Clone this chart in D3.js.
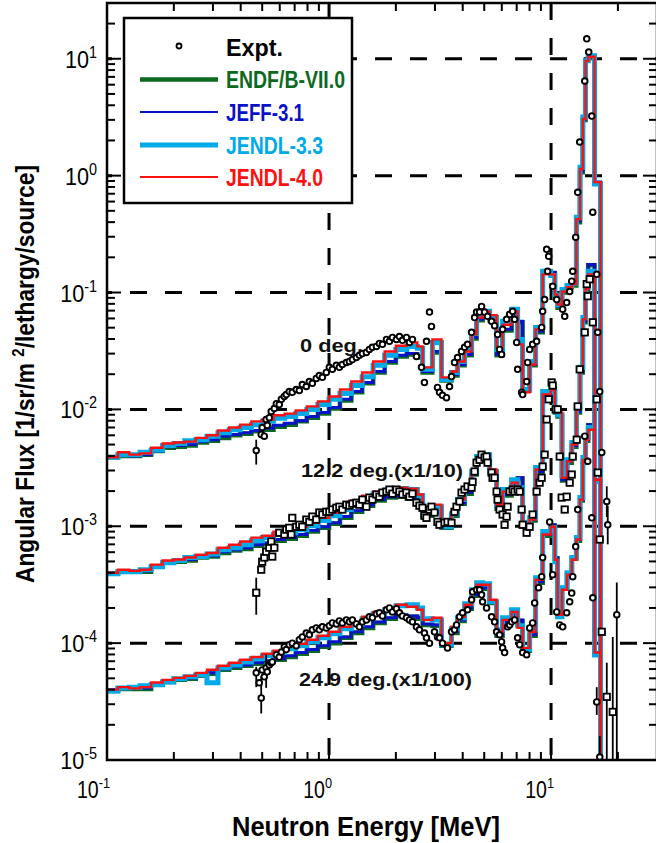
<!DOCTYPE html>
<html><head><meta charset="utf-8">
<script src="https://cdn.jsdelivr.net/npm/d3@7"></script>
<style>
html,body{margin:0;padding:0;background:#fff;}
svg{display:block;font-family:"Liberation Sans",Arial,sans-serif;}
</style></head><body>
<svg id="chart" width="656" height="843"></svg>
<script>
// ---------- DATA ----------
const edges = [0.1,0.112,0.126,0.141,0.158,0.178,0.2,0.224,0.251,0.282,0.316,0.355,0.398,0.447,0.501,0.562,0.631,0.708,0.794,0.891,1.0,
  1.12,1.26,1.41,1.58,1.78,2.0,2.24,2.5,2.64,2.92,3.21,3.56,3.79,4.08,4.39,4.62,4.92,5.29,5.68,6.05,6.64,7.07,7.44,8.01,8.52,9.17,9.96,
  10.4,10.7,11.2,11.8,12.4,13.0,13.5,13.9,14.3,14.7,15.7,16.7];

const deg0_endf = [3.9e-3,4.0e-3,4.0e-3,4.1e-3,4.4e-3,4.7e-3,4.8e-3,4.9e-3,5.2e-3,5.4e-3,5.7e-3,6.0e-3,6.2e-3,6.5e-3,6.7e-3,7.1e-3,7.4e-3,7.9e-3,8.5e-3,9.2e-3,1.02e-2,
  1.19e-2,1.40e-2,1.67e-2,2.07e-2,2.52e-2,2.84e-2,2.95e-2,
  2.78e-2,2.07e-2,3.07e-2,1.77e-2,1.95e-2,2.38e-2,2.9e-2,4.05e-2,5.8e-2,6.4e-2,5.8e-2,2.9e-2,4.74e-2,6.4e-2,5.56e-2,1.45e-2,2.38e-2,4.56e-2,
  0.149,0.146,0.089,0.074,0.100,0.111,0.115,0.40,1.07,2.99,9.8,10.2,0.86];
const deg0_jeff = [3.9e-3,4.1e-3,4.0e-3,4.1e-3,4.4e-3,4.8e-3,4.9e-3,5.0e-3,5.3e-3,5.5e-3,5.9e-3,6.1e-3,6.3e-3,6.6e-3,6.9e-3,7.3e-3,7.6e-3,8.0e-3,8.7e-3,9.4e-3,1.04e-2,
  1.22e-2,1.42e-2,1.70e-2,2.11e-2,2.57e-2,2.9e-2,3.0e-2,
  2.84e-2,2.11e-2,3.13e-2,1.80e-2,1.99e-2,2.42e-2,2.95e-2,4.13e-2,5.9e-2,6.5e-2,5.9e-2,2.95e-2,4.84e-2,6.5e-2,5.67e-2,1.48e-2,2.42e-2,4.65e-2,
  0.152,0.149,0.091,0.076,0.102,0.113,0.118,0.41,1.09,3.05,10.0,10.4,0.88];
const deg0_jendl33 = [3.9e-3,4.1e-3,4.1e-3,4.3e-3,4.5e-3,4.9e-3,5.1e-3,5.4e-3,5.5e-3,5.9e-3,6.3e-3,6.7e-3,7.0e-3,7.4e-3,7.9e-3,8.4e-3,8.7e-3,9.2e-3,1.0e-2,1.10e-2,1.22e-2,
  1.37e-2,1.6e-2,1.9e-2,2.38e-2,2.9e-2,3.26e-2,3.46e-2,
  3.33e-2,2.2e-2,3.74e-2,1.80e-2,2.07e-2,2.57e-2,3.26e-2,4.47e-2,6.4e-2,6.9e-2,6.1e-2,3.26e-2,5.67e-2,7.2e-2,3.97e-2,1.48e-2,2.57e-2,5.03e-2,
  0.152,0.140,0.095,0.078,0.106,0.115,0.120,0.44,1.18,3.17,9.6,10.6,0.85];
const deg0_jendl40 = [3.9e-3,4.3e-3,4.1e-3,4.2e-3,4.7e-3,5.1e-3,5.2e-3,5.3e-3,5.7e-3,6.0e-3,6.6e-3,7.0e-3,7.4e-3,7.9e-3,8.2e-3,8.9e-3,9.2e-3,9.8e-3,1.06e-2,1.17e-2,1.29e-2,
  1.48e-2,1.73e-2,2.07e-2,2.57e-2,3.13e-2,3.5e-2,3.74e-2,
  3.46e-2,2.29e-2,3.97e-2,1.88e-2,2.11e-2,2.57e-2,3.13e-2,4.38e-2,6.1e-2,6.9e-2,6.4e-2,3.4e-2,5.3e-2,6.9e-2,3.6e-2,1.40e-2,2.42e-2,4.84e-2,
  0.143,0.143,0.096,0.079,0.102,0.111,0.118,0.424,1.14,3.05,9.6,10.4,0.88];

const deg12_endf = [3.92e-4,4.08e-4,4.08e-4,4.08e-4,4.5e-4,4.88e-4,4.97e-4,5.1e-4,5.4e-4,5.5e-4,5.9e-4,6.2e-4,6.4e-4,6.8e-4,7.1e-4,7.5e-4,7.8e-4,8.3e-4,9.0e-4,9.7e-4,1.05e-3,
  1.18e-3,1.33e-3,1.50e-3,1.66e-3,1.76e-3,1.79e-3,1.72e-3,
  1.53e-3,1.23e-3,1.31e-3,9.7e-4,1.23e-3,1.56e-3,1.90e-3,2.77e-3,3.65e-3,3.87e-3,2.88e-3,1.41e-3,1.83e-3,2.23e-3,2.56e-3,9.9e-4,1.12e-3,2.88e-3,
  1.32e-2,1.51e-2,9.4e-3,8.7e-3,2.46e-3,3.5e-3,4.8e-3,9.4e-3,2.07e-2,5.56e-2,0.104,0.171,2.46e-3];
const deg12_jeff = [4.0e-4,4.15e-4,4.15e-4,4.15e-4,4.6e-4,4.97e-4,5.1e-4,5.2e-4,5.5e-4,5.6e-4,6.05e-4,6.3e-4,6.55e-4,6.95e-4,7.2e-4,7.7e-4,8.0e-4,8.5e-4,9.2e-4,9.9e-4,1.07e-3,
  1.21e-3,1.36e-3,1.53e-3,1.69e-3,1.79e-3,1.83e-3,1.76e-3,
  1.56e-3,1.26e-3,1.33e-3,9.9e-4,1.26e-3,1.59e-3,1.94e-3,2.82e-3,3.7e-3,3.95e-3,2.94e-3,1.44e-3,1.87e-3,2.27e-3,2.6e-3,1.01e-3,1.14e-3,2.94e-3,
  1.34e-2,1.54e-2,9.6e-3,8.9e-3,2.5e-3,3.6e-3,4.9e-3,9.6e-3,2.11e-2,5.67e-2,0.107,0.174,2.5e-3];
const deg12_jendl33 = [3.92e-4,4.08e-4,4.08e-4,4.25e-4,4.5e-4,4.88e-4,5.1e-4,5.4e-4,5.5e-4,5.8e-4,6.3e-4,6.55e-4,6.95e-4,7.5e-4,8.0e-4,8.5e-4,8.8e-4,9.35e-4,1.01e-3,1.12e-3,1.23e-3,
  1.39e-3,1.56e-3,1.72e-3,1.90e-3,2.02e-3,2.10e-3,2.06e-3,
  1.83e-3,1.31e-3,1.47e-3,9.9e-4,1.28e-3,1.69e-3,2.10e-3,2.94e-3,3.95e-3,4.1e-3,2.94e-3,1.53e-3,2.06e-3,2.5e-3,2.14e-3,1.07e-3,1.18e-3,3.18e-3,
  1.42e-2,1.42e-2,9.6e-3,9.0e-3,2.7e-3,3.7e-3,5.2e-3,1.04e-2,2.29e-2,6.1e-2,0.111,0.152,2.4e-3];
const deg12_jendl40 = [4.0e-4,4.25e-4,4.15e-4,4.25e-4,4.7e-4,5.1e-4,5.2e-4,5.4e-4,5.7e-4,5.9e-4,6.55e-4,6.95e-4,7.4e-4,8.0e-4,8.3e-4,9.0e-4,9.35e-4,9.9e-4,1.07e-3,1.18e-3,1.31e-3,
  1.47e-3,1.66e-3,1.83e-3,1.98e-3,2.06e-3,2.14e-3,2.10e-3,
  1.87e-3,1.33e-3,1.53e-3,1.03e-3,1.33e-3,1.69e-3,2.06e-3,2.94e-3,3.87e-3,4.1e-3,3.06e-3,1.53e-3,1.98e-3,2.36e-3,2.06e-3,1.03e-3,1.14e-3,3.06e-3,
  1.34e-2,1.48e-2,1.0e-2,9.4e-3,2.6e-3,3.6e-3,5.0e-3,1.0e-2,2.2e-2,5.9e-2,0.107,0.143,2.5e-3];

const deg25_endf = [3.9e-5,4.06e-5,4.06e-5,4.06e-5,4.4e-5,4.66e-5,4.85e-5,4.95e-5,5.25e-5,5.46e-5,5.91e-5,6.15e-5,6.4e-5,6.65e-5,6.9e-5,7.2e-5,7.6e-5,8.1e-5,8.6e-5,9.3e-5,1.0e-4,
  1.11e-4,1.22e-4,1.35e-4,1.49e-4,1.62e-4,1.71e-4,1.68e-4,
  1.62e-4,1.43e-4,1.41e-4,9.5e-5,1.22e-4,1.55e-4,1.97e-4,2.54e-4,2.92e-4,2.92e-4,2.21e-4,1.155e-4,1.49e-4,1.71e-4,1.55e-4,8.6e-5,1.155e-4,3.28e-4,
  8.3e-4,1.01e-3,5.3e-4,1.82e-4,2.92e-4,3.85e-4,5.3e-4,7.5e-4,1.66e-3,3.5e-3,5.4e-3,7.3e-3,8.1e-5];
const deg25_jeff = [4.0e-5,4.14e-5,4.14e-5,4.14e-5,4.48e-5,4.75e-5,4.95e-5,5.04e-5,5.35e-5,5.57e-5,6.0e-5,6.27e-5,6.5e-5,6.8e-5,7.05e-5,7.35e-5,7.8e-5,8.3e-5,8.8e-5,9.5e-5,1.03e-4,
  1.13e-4,1.25e-4,1.38e-4,1.52e-4,1.65e-4,1.75e-4,1.71e-4,
  1.65e-4,1.46e-4,1.43e-4,9.7e-5,1.25e-4,1.58e-4,2.0e-4,2.59e-4,2.98e-4,2.98e-4,2.26e-4,1.18e-4,1.52e-4,1.75e-4,1.58e-4,8.8e-5,1.18e-4,3.35e-4,
  8.5e-4,1.03e-3,5.4e-4,1.85e-4,2.98e-4,3.92e-4,5.4e-4,7.7e-4,1.69e-3,3.6e-3,5.5e-3,7.4e-3,8.3e-5];
const deg25_jendl33 = [3.9e-5,4.14e-5,4.2e-5,4.31e-5,4.4e-5,4.66e-5,4.95e-5,5.15e-5,5.35e-5,4.57e-5,6.15e-5,6.5e-5,6.9e-5,7.35e-5,7.8e-5,8.3e-5,8.95e-5,9.5e-5,1.03e-4,1.11e-4,1.2e-4,
  1.33e-4,1.46e-4,1.62e-4,1.78e-4,1.93e-4,2.09e-4,2.13e-4,
  2.0e-4,1.62e-4,1.58e-4,9.7e-5,1.33e-4,1.65e-4,2.17e-4,2.86e-4,3.28e-4,3.22e-4,2.26e-4,1.30e-4,1.65e-4,1.93e-4,1.41e-4,8.8e-5,1.30e-4,3.63e-4,
  9.0e-4,9.7e-4,4.97e-4,1.68e-4,2.98e-4,4.0e-4,5.4e-4,8.0e-4,1.76e-3,3.87e-3,5.75e-3,7.0e-3,7.9e-5];
const deg25_jendl40 = [4.0e-5,4.2e-5,4.1e-5,4.2e-5,4.6e-5,4.85e-5,5.04e-5,5.25e-5,5.57e-5,5.91e-5,6.4e-5,6.8e-5,7.2e-5,7.6e-5,8.1e-5,8.6e-5,9.3e-5,9.87e-5,1.07e-4,1.155e-4,1.25e-4,
  1.38e-4,1.52e-4,1.68e-4,1.85e-4,2.0e-4,2.13e-4,2.05e-4,
  1.93e-4,1.58e-4,1.65e-4,1.0e-4,1.38e-4,1.68e-4,2.13e-4,2.75e-4,3.16e-4,3.16e-4,2.35e-4,1.25e-4,1.58e-4,1.85e-4,1.35e-4,9.1e-5,1.25e-4,3.49e-4,
  8.5e-4,9.9e-4,5.17e-4,1.75e-4,2.86e-4,3.85e-4,5.17e-4,7.7e-4,1.69e-3,3.7e-3,5.5e-3,6.7e-3,8.3e-5];

// experimental points [E (MeV), flux]
const expt0 = [[0.470,4.45e-3],[0.495,6.1e-3],[0.500,7.0e-3],[0.511,5.9e-3],[0.521,8.2e-3],[0.527,7.3e-3],[0.538,8.5e-3],[0.549,9.6e-3],[0.567,1.02e-2],[0.579,1.12e-2],[0.597,1.10e-2],[0.610,1.22e-2],[0.629,1.29e-2],[0.642,1.34e-2],[0.662,1.42e-2],[0.683,1.40e-2],[0.712,1.48e-2],[0.735,1.45e-2],[0.758,1.63e-2],[0.790,1.57e-2],[0.815,1.73e-2],[0.841,1.67e-2],[0.876,1.84e-2],[0.904,1.95e-2],[0.933,1.88e-2],[0.972,2.07e-2],[1.003,2.29e-2],[1.035,2.2e-2],[1.079,2.38e-2],[1.113,2.29e-2],[1.148,2.42e-2],[1.197,2.52e-2],[1.235,2.57e-2],[1.274,2.67e-2],[1.328,2.78e-2],[1.370,2.9e-2],[1.413,3.0e-2],[1.473,3.07e-2],[1.519,3.26e-2],[1.568,3.4e-2],[1.635,3.46e-2],[1.686,3.67e-2],[1.740,3.6e-2],[1.814,3.97e-2],[1.871,3.82e-2],[1.930,4.13e-2],[2.012,3.97e-2],[2.075,4.2e-2],[2.141,3.9e-2],[2.232,4.13e-2],[2.303,3.74e-2],[2.375,3.97e-2],[2.476,2.84e-2],[2.608,2.29e-2],[2.690,1.70e-2],[2.747,3.82e-2],[2.834,6.8e-2],[2.893,5.13e-2],[3.079,1.54e-2],[3.144,1.40e-2],[3.243,1.32e-2],[3.381,1.26e-2],[3.488,1.57e-2],[3.562,1.91e-2],[3.674,2.52e-2],[3.791,2.78e-2],[3.952,3.13e-2],[4.077,3.4e-2],[4.206,3.6e-2],[4.385,4.56e-2],[4.524,6.1e-2],[4.619,6.8e-2],[4.764,6.8e-2],[4.864,7.6e-2],[5.017,6.8e-2],[5.176,6.25e-2],[5.396,5.67e-2],[5.567,5.2e-2],[5.743,4.38e-2],[5.864,3.26e-2],[5.987,2.95e-2],[6.050,4.84e-2],[6.306,5.9e-2],[6.507,6.5e-2],[6.713,6.9e-2],[6.853,5.9e-2],[6.997,3.74e-2],[7.070,2.2e-2],[7.370,1.40e-2],[7.447,1.34e-2],[7.762,1.73e-2],[7.843,2.52e-2],[8.008,3.26e-2],[8.26,3.6e-2],[8.61,3.82e-2],[9.068,5.03e-2],[9.165,6.9e-2],[9.356,8.7e-2],[9.553,0.234],[9.755,0.204],[9.65,0.152],[10.17,0.113],[10.60,0.087],[11.28,0.072],[11.52,0.0625],[11.76,0.082],[12.13,0.102],[12.39,0.125],[12.52,0.152],[12.91,0.297],[13.18,0.72],[13.46,1.94],[14.18,6.45],[14.48,14.8],[14.78,11.4],[15.25,3.23],[15.41,0.487],[16.06,0.143],[16.23,0.0456],[16.57,1.42e-2],[16.92,4.28e-3],[17.82,1.63e-3],[18.0,1.03e-3],[19.77,1.75e-4]];
const expt12 = [[0.470,2.7e-4],[0.495,4.25e-4],[0.500,4.97e-4],[0.511,5.4e-4],[0.521,6.05e-4],[0.538,6.55e-4],[0.549,7.4e-4],[0.555,5.5e-4],[0.567,6.55e-4],[0.597,8.8e-4],[0.629,8.5e-4],[0.642,9.35e-4],[0.662,9.7e-4],[0.676,8.5e-4],[0.683,1.18e-3],[0.712,9.9e-4],[0.735,1.03e-3],[0.758,9.9e-4],[0.790,1.14e-3],[0.815,1.09e-3],[0.841,1.21e-3],[0.876,1.14e-3],[0.904,1.31e-3],[0.933,1.26e-3],[0.972,1.33e-3],[1.003,1.33e-3],[1.035,1.39e-3],[1.079,1.44e-3],[1.113,1.47e-3],[1.148,1.39e-3],[1.197,1.53e-3],[1.235,1.50e-3],[1.274,1.56e-3],[1.328,1.59e-3],[1.370,1.53e-3],[1.413,1.69e-3],[1.473,1.47e-3],[1.519,1.76e-3],[1.568,1.69e-3],[1.635,1.87e-3],[1.686,1.79e-3],[1.740,1.94e-3],[1.814,1.98e-3],[1.871,2.06e-3],[1.930,1.90e-3],[2.012,2.06e-3],[2.075,1.98e-3],[2.141,1.87e-3],[2.232,1.94e-3],[2.303,1.79e-3],[2.375,1.90e-3],[2.476,1.59e-3],[2.554,1.50e-3],[2.635,1.44e-3],[2.690,1.23e-3],[2.747,1.18e-3],[2.834,1.39e-3],[2.893,1.47e-3],[2.985,1.31e-3],[3.079,1.09e-3],[3.144,1.03e-3],[3.312,1.07e-3],[3.417,1.09e-3],[3.562,1.07e-3],[3.674,1.33e-3],[3.752,1.47e-3],[3.870,1.63e-3],[3.952,1.94e-3],[4.077,2.06e-3],[4.206,2.19e-3],[4.385,2.14e-3],[4.431,2.4e-3],[4.524,2.94e-3],[4.619,3.5e-3],[4.764,3.7e-3],[4.864,4.1e-3],[5.017,3.87e-3],[5.123,3.95e-3],[5.176,3.5e-3],[5.396,2.88e-3],[5.453,2.6e-3],[5.567,2.6e-3],[5.684,1.98e-3],[5.743,1.69e-3],[5.864,1.39e-3],[6.050,1.26e-3],[6.177,1.03e-3],[6.306,1.21e-3],[6.372,1.47e-3],[6.507,1.98e-3],[6.713,2.06e-3],[6.853,1.98e-3],[7.070,2.06e-3],[7.220,1.98e-3],[7.370,1.39e-3],[7.447,1.03e-3],[7.762,8.8e-4],[8.008,9.9e-4],[8.260,1.26e-3],[8.61,1.98e-3],[8.882,2.36e-3],[9.068,2.6e-3],[9.165,3.24e-3],[9.356,4.1e-3],[9.553,8.2e-3],[9.755,1.22e-2],[10.06,1.70e-2],[10.17,1.60e-2],[10.49,1.0e-2],[10.71,1.0e-2],[10.94,3.95e-3],[11.16,1.76e-3],[11.52,1.39e-3],[11.76,1.79e-3],[12.13,2.36e-3],[12.39,2.77e-3],[12.52,3.95e-3],[13.05,5.5e-3],[13.18,1.06e-2],[13.46,2.2e-2],[14.18,4.56e-2],[14.48,0.118],[14.63,0.093],[14.93,0.13],[15.41,5.56e-2],[16.06,1.22e-2],[16.23,2.88e-3],[16.57,7.7e-4],[16.92,1.25e-4],[17.82,3.47e-5],[18.96,2.58e-5]];
const expt25 = [[0.470,5.57e-5],[0.485,4.57e-5],[0.495,3.4e-5],[0.500,5.9e-5],[0.511,5.15e-5],[0.521,6.15e-5],[0.527,5.68e-5],[0.538,6.5e-5],[0.549,6.8e-5],[0.555,6.9e-5],[0.579,7.95e-5],[0.597,7.6e-5],[0.610,8.4e-5],[0.629,9.3e-5],[0.642,8.8e-5],[0.662,9.7e-5],[0.683,1.0e-4],[0.712,9.5e-5],[0.735,1.07e-4],[0.758,1.13e-4],[0.790,1.22e-4],[0.815,1.18e-4],[0.841,1.30e-4],[0.876,1.35e-4],[0.904,1.30e-4],[0.933,1.38e-4],[0.972,1.35e-4],[1.003,1.41e-4],[1.035,1.49e-4],[1.079,1.46e-4],[1.113,1.55e-4],[1.148,1.49e-4],[1.197,1.58e-4],[1.235,1.52e-4],[1.274,1.58e-4],[1.328,1.46e-4],[1.370,1.38e-4],[1.413,1.52e-4],[1.473,1.58e-4],[1.519,1.68e-4],[1.568,1.65e-4],[1.635,1.78e-4],[1.686,1.82e-4],[1.740,1.71e-4],[1.814,1.93e-4],[1.871,2.0e-4],[1.930,1.85e-4],[2.012,1.97e-4],[2.075,1.82e-4],[2.141,1.71e-4],[2.232,1.65e-4],[2.303,1.58e-4],[2.375,1.52e-4],[2.476,1.38e-4],[2.554,1.30e-4],[2.690,1.22e-4],[2.747,1.11e-4],[2.834,1.0e-4],[2.985,1.25e-4],[3.079,1.13e-4],[3.144,1.11e-4],[3.243,1.0e-4],[3.417,9.1e-5],[3.562,1.25e-4],[3.674,1.30e-4],[3.752,1.43e-4],[3.870,1.68e-4],[3.993,1.82e-4],[4.206,1.93e-4],[4.385,2.35e-4],[4.431,2.75e-4],[4.619,2.86e-4],[4.764,2.86e-4],[4.864,2.59e-4],[4.915,2.26e-4],[5.123,2.0e-4],[5.396,1.68e-4],[5.567,1.52e-4],[5.684,1.25e-4],[5.864,1.18e-4],[5.987,1.03e-4],[6.050,9.1e-5],[6.177,8.3e-5],[6.372,1.38e-4],[6.507,1.43e-4],[6.643,1.52e-4],[6.853,1.58e-4],[7.070,1.11e-4],[7.220,9.7e-5],[7.447,8.3e-5],[7.762,7.95e-5],[8.008,1.35e-4],[8.260,1.49e-4],[8.433,2.21e-4],[8.79,2.98e-4],[9.068,3.7e-4],[9.165,5.4e-4],[9.856,1.09e-3],[10.17,3.85e-4],[10.60,1.85e-4],[10.94,1.43e-4],[11.28,1.38e-4],[11.76,1.82e-4],[12.13,2.26e-4],[12.39,2.68e-4],[12.52,3.7e-4],[12.91,6.7e-4],[13.18,1.39e-3],[14.18,5.9e-3],[14.63,3.6e-3],[15.25,1.18e-3],[15.41,2.44e-4],[16.06,3.14e-5],[16.57,1.06e-5]];

// error bars [E, low, high]
const err0 = [[0.470,3.37e-3,5.5e-3],[17.82,1.2e-3,2.2e-3],[18.0,7.0e-4,1.5e-3],[19.77,1.0e-6,3.3e-4]];
const err12 = [[0.470,1.75e-4,3.63e-4],[17.82,1.0e-6,6.8e-5],[18.96,1.0e-6,1.13e-4]];
const err25 = [[0.470,4.2e-5,6.27e-5],[0.495,2.5e-5,5.2e-5],[0.521,4.14e-5,8.0e-5],[16.06,2.43e-5,4.2e-5],[16.57,1.0e-6,1.6e-5]];

const xMajorExp = [-1, 0, 1];
const yMajorExp = [-5, -4, -3, -2, -1, 0, 1];
const libNames = ["ENDF/B-VII.0", "JEFF-3.1", "JENDL-3.3", "JENDL-4.0"];
const libColors = ["#0c6a20", "#0a12c8", "#00a9e8", "#ff1010"];
const libWidths = [4.5, 3, 5, 2.4];
const angleLabels = ["0 deg.", "12.2 deg.(x1/10)", "24.9 deg.(x1/100)"];

// ---------- CHART ----------
const svg = d3.select("#chart");
const L = 107, R = 657, T = 3, B = 760;
const x = d3.scaleLog().domain([0.1, 30]).range([L, R]);
const y = d3.scaleLog().domain([1e-5, 30]).range([B, T]);

svg.append("rect").attr("width", 656).attr("height", 843).attr("fill", "#fff");
svg.append("defs").append("clipPath").attr("id", "clip")
  .append("rect").attr("x", L).attr("y", T).attr("width", R - L).attr("height", B - T);

// grid
const grid = svg.append("g").attr("clip-path", "url(#clip)")
  .attr("stroke", "#000").attr("stroke-width", 3).attr("stroke-dasharray", "17 18");
yMajorExp.filter(e => e > -5).forEach(e => {
  grid.append("line").attr("x1", L).attr("x2", R).attr("y1", y(Math.pow(10, e))).attr("y2", y(Math.pow(10, e)))
    .attr("stroke-dashoffset", 12);
});
xMajorExp.filter(e => e > -1).forEach(e => {
  grid.append("line").attr("y1", T).attr("y2", B).attr("x1", x(Math.pow(10, e))).attr("x2", x(Math.pow(10, e)));
});

// step curves
const lineGen = d3.line();
function stepPts(vals) {
  const pts = [];
  vals.forEach((v, i) => { pts.push([x(edges[i]), y(v)]); pts.push([x(edges[i + 1]), y(v)]); });
  pts.push([x(edges[edges.length - 1]), B + 10]);
  return pts;
}
const curves = svg.append("g").attr("clip-path", "url(#clip)").attr("fill", "none").attr("stroke-linejoin", "miter");
const sets = [
  [deg0_endf, deg0_jeff, deg0_jendl33, deg0_jendl40],
  [deg12_endf, deg12_jeff, deg12_jendl33, deg12_jendl40],
  [deg25_endf, deg25_jeff, deg25_jendl33, deg25_jendl40]
];
[0, 1, 2, 3].forEach(li => {
  sets.forEach(s => {
    curves.append("path").attr("d", lineGen(stepPts(s[li])))
      .attr("stroke", libColors[li]).attr("stroke-width", libWidths[li]);
  });
});

// experimental
const ex = svg.append("g").attr("clip-path", "url(#clip)");
[err0, err12, err25].forEach(errs => {
  ex.selectAll(null).data(errs).enter().append("line")
    .attr("x1", d => x(d[0])).attr("x2", d => x(d[0]))
    .attr("y1", d => y(d[1])).attr("y2", d => y(d[2]))
    .attr("stroke", "#000").attr("stroke-width", 1.8);
});
[expt0, expt25].forEach(pts => {
  ex.selectAll(null).data(pts).enter().append("circle")
    .attr("cx", d => x(d[0])).attr("cy", d => y(d[1])).attr("r", 2.8)
    .attr("fill", "#fff").attr("stroke", "#000").attr("stroke-width", 1.9);
});
ex.selectAll(null).data(expt12).enter().append("rect")
  .attr("x", d => x(d[0]) - 3.2).attr("y", d => y(d[1]) - 3.2).attr("width", 6.4).attr("height", 6.4)
  .attr("fill", "#fff").attr("stroke", "#000").attr("stroke-width", 1.8);

// frame & ticks
const ax = svg.append("g").attr("stroke", "#000");
ax.append("rect").attr("x", L).attr("y", T).attr("width", R - L).attr("height", B - T)
  .attr("fill", "none").attr("stroke-width", 2.5);
x.ticks().forEach(t => {
  const major = Math.abs(Math.log10(t) - Math.round(Math.log10(t))) < 1e-9;
  const len = major ? 13 : 8;
  ax.append("line").attr("x1", x(t)).attr("x2", x(t)).attr("y1", B).attr("y2", B - len).attr("stroke-width", 2);
  ax.append("line").attr("x1", x(t)).attr("x2", x(t)).attr("y1", T).attr("y2", T + len).attr("stroke-width", 2);
});
y.ticks().forEach(t => {
  const major = Math.abs(Math.log10(t) - Math.round(Math.log10(t))) < 1e-9;
  const len = major ? 14 : 8;
  ax.append("line").attr("y1", y(t)).attr("y2", y(t)).attr("x1", L).attr("x2", L + len).attr("stroke-width", 2);
  ax.append("line").attr("y1", y(t)).attr("y2", y(t)).attr("x1", R).attr("x2", R - len).attr("stroke-width", 2);
});

// tick labels
yMajorExp.forEach(e => {
  const g = svg.append("g").attr("transform", `translate(97,${y(Math.pow(10, e)) + 9}) scale(0.9,1)`);
  const t = g.append("text").attr("text-anchor", "end").attr("font-size", 24).attr("fill", "#000").text("10");
  t.append("tspan").attr("dy", -10).attr("font-size", 16).text(String(e).replace("-", "-"));
});
xMajorExp.forEach(e => {
  const g = svg.append("g").attr("transform", `translate(${x(Math.pow(10, e)) + 3},798) scale(0.85,1)`);
  const t = g.append("text").attr("text-anchor", "end").attr("font-size", 23).attr("fill", "#000").text("10");
  t.append("tspan").attr("dy", -10).attr("font-size", 15).text(String(e));
});

// axis titles
svg.append("text").attr("x", 232).attr("y", 836).attr("font-size", 28).attr("font-weight", "bold")
  .attr("textLength", 268).attr("lengthAdjust", "spacingAndGlyphs").text("Neutron Energy [MeV]");
const yt = svg.append("text").attr("transform", "translate(34,583) rotate(-90)")
  .attr("font-size", 26).attr("font-weight", "bold")
  .attr("textLength", 418).attr("lengthAdjust", "spacingAndGlyphs");
yt.append("tspan").text("Angular Flux [1/sr/m ");
yt.append("tspan").attr("dy", -10).attr("font-size", 17).text("2");
yt.append("tspan").attr("dy", 10).text("/lethargy/source]");

// angle annotations
const annPos = [[300, 352, 63, 18], [301, 477, 162, 18], [299, 686, 173, 18]];
angleLabels.forEach((s, i) => {
  svg.append("text").attr("x", annPos[i][0]).attr("y", annPos[i][1]).attr("font-size", annPos[i][3])
    .attr("font-weight", "bold").attr("fill", "#111")
    .attr("textLength", annPos[i][2]).attr("lengthAdjust", "spacingAndGlyphs").text(s);
});

// legend
const lg = svg.append("g");
lg.append("rect").attr("x", 124).attr("y", 18).attr("width", 228).attr("height", 185)
  .attr("fill", "#fff").attr("stroke", "#000").attr("stroke-width", 2.5);
lg.append("circle").attr("cx", 179).attr("cy", 46).attr("r", 2.5).attr("fill", "#fff").attr("stroke", "#000").attr("stroke-width", 1.8);
lg.append("text").attr("x", 226).attr("y", 56).attr("font-size", 23).attr("font-weight", "bold")
  .attr("textLength", 57).attr("lengthAdjust", "spacingAndGlyphs").text("Expt.");
const legY = [79.5, 112, 145, 177];
const legW = [119, 78, 97, 97];
libNames.forEach((n, i) => {
  lg.append("line").attr("x1", 140).attr("x2", 218).attr("y1", legY[i]).attr("y2", legY[i])
    .attr("stroke", libColors[i]).attr("stroke-width", [4.5, 2, 5, 2][i]);
  lg.append("text").attr("x", 226).attr("y", legY[i] + 8.5).attr("font-size", 23).attr("font-weight", "bold")
    .attr("fill", libColors[i]).attr("textLength", legW[i]).attr("lengthAdjust", "spacingAndGlyphs").text(n);
});
</script>
</body></html>
